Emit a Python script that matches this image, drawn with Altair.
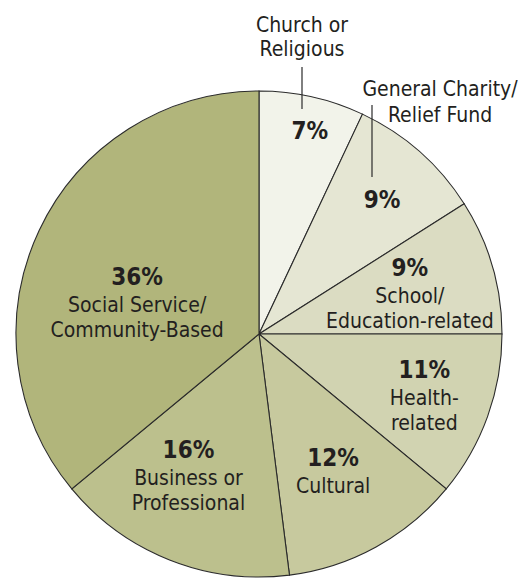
import altair as alt
import pandas as pd

# ---- data ----
categories = ["Church or Religious", "General Charity/Relief Fund", "School/Education-related",
              "Health-related", "Cultural", "Business or Professional", "Social Service/Community-Based"]
values = [7, 9, 9, 11, 12, 16, 36]
pct_labels = ["7%", "9%", "9%", "11%", "12%", "16%", "36%"]
inner_names = ["", "", "School/\nEducation-related", "Health-\nrelated", "Cultural",
               "Business or\nProfessional", "Social Service/\nCommunity-Based"]
outer_names = ["Church or\nReligious", "General Charity/\nRelief Fund"]
colors = ["#F2F3EA", "#E5E6D3", "#DBDCC2", "#D1D3B1", "#C7C99E", "#BCC08D", "#B1B57B"]

# ---- layout (label placement, in degrees from 12 o'clock and pixel radius) ----
label_angle = [14.0, 42.3, 66.1, 102.0, 149.0, 211.5, 295.5]
label_radius = [210, 183, 165, 169, 144, 135, 135]

CX, CY, R = 251, 326, 243
FONT = "DejaVu Sans Condensed, DejaVu Sans, sans-serif"
INK = "#231F20"

df = pd.DataFrame({
    "category": categories,
    "value": values,
    "order": list(range(len(values))),
    "pct": pct_labels,
    "name": inner_names,
    "lpos": [a / 3.6 for a in label_angle],
    "lrad": label_radius,
})

theta_scale = alt.Scale(domain=[0, 100], range=[0, 6.283185307179586])

arcs = alt.Chart(df).mark_arc(stroke="#2b2b2b", strokeWidth=1.1).encode(
    theta=alt.Theta("value:Q", stack=True, scale=theta_scale),
    order=alt.Order("order:Q"),
    color=alt.Color("category:N", scale=alt.Scale(domain=categories, range=colors), legend=None),
    radius=alt.value(R),
    x=alt.value(CX), y=alt.value(CY),
)

pct = alt.Chart(df).mark_text(font=FONT, fontSize=24, fontWeight="bold", color=INK,
                              baseline="alphabetic", dy=9).encode(
    theta=alt.Theta("lpos:Q", stack=None, scale=theta_scale),
    radius=alt.Radius("lrad:Q", scale=None),
    text="pct:N",
    x=alt.value(CX), y=alt.value(CY),
)

names = alt.Chart(df).transform_filter(alt.datum.name != "").mark_text(
    font=FONT, fontSize=21, color=INK, baseline="alphabetic", dy=36,
    lineBreak="\n", lineHeight=25).encode(
    theta=alt.Theta("lpos:Q", stack=None, scale=theta_scale),
    radius=alt.Radius("lrad:Q", scale=None),
    text="name:N",
    x=alt.value(CX), y=alt.value(CY),
)

outer1 = alt.Chart(pd.DataFrame({"t": [outer_names[0]]})).mark_text(
    font=FONT, fontSize=21, color=INK, baseline="alphabetic", lineBreak="\n", lineHeight=24
).encode(text="t:N", x=alt.value(294), y=alt.value(24))

outer2 = alt.Chart(pd.DataFrame({"t": [outer_names[1]]})).mark_text(
    font=FONT, fontSize=21, color=INK, baseline="alphabetic", lineBreak="\n", lineHeight=26
).encode(text="t:N", x=alt.value(432), y=alt.value(88))

lead1 = alt.Chart(pd.DataFrame({"a": [0]})).mark_rule(color="#2b2b2b", strokeWidth=1.2).encode(
    x=alt.value(294), y=alt.value(59), y2=alt.value(101))
lead2 = alt.Chart(pd.DataFrame({"a": [0]})).mark_rule(color="#2b2b2b", strokeWidth=1.2).encode(
    x=alt.value(364), y=alt.value(97), y2=alt.value(169))

chart = alt.layer(arcs, pct, names, outer1, outer2, lead1, lead2).properties(
    width=510, height=571, padding=0, autosize="none", background="white"
).configure_view(strokeWidth=0)

chart.save("out.html", embed_options={"renderer": "svg", "actions": False})
